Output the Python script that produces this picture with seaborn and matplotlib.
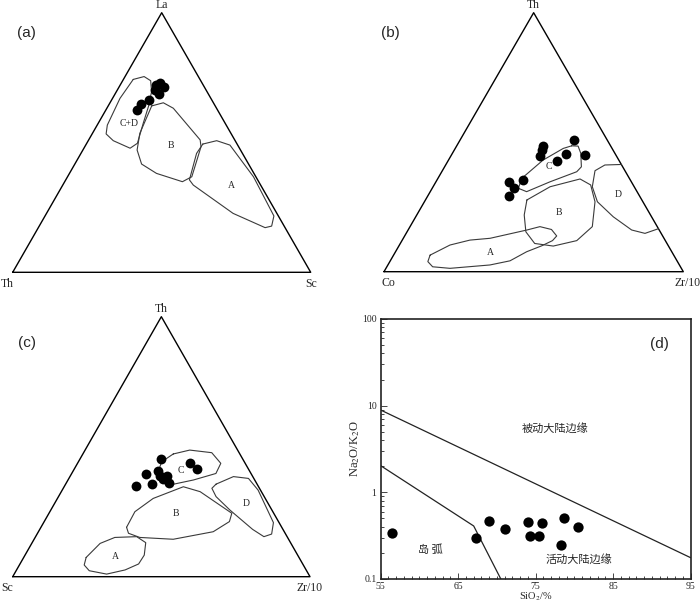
import numpy as np
import pandas as pd
import seaborn as sns
import matplotlib.pyplot as plt
from matplotlib.ticker import FixedLocator, FixedFormatter, MultipleLocator, LogLocator, NullFormatter

# ---- (a) La-Th-Sc, values in %, top = La, right = Sc (Th = rest)
pts_a_la = [72.9, 72.2, 71.2, 70.4, 68.5, 66.4, 65.0, 62.5]
pts_a_sc = [13.1, 12.1, 15.2, 12.5, 14.7, 12.7, 10.4, 10.6]
cd_a_la = [74.3, 75.4, 73.8, 69.6, 64.4, 57.4, 49.7, 47.8, 50.7, 53.3, 56.7, 67.0]
cd_a_sc = [3.3, 6.4, 9.4, 11.8, 13.5, 15.1, 17.0, 15.5, 8.4, 4.7, 3.4, 2.5]
b_a_la = [64.1, 65.3, 63.2, 51.0, 48.4, 36.8, 34.9, 38.1, 41.7, 47.1, 53.5]
b_a_sc = [14.6, 17.9, 22.3, 37.4, 39.0, 41.7, 39.5, 29.2, 22.4, 18.2, 15.9]
a_a_la = [49.4, 50.7, 49.0, 36.8, 21.7, 17.8, 17.2, 22.7, 33.6, 35.6, 45.8]
a_a_sc = [39.1, 43.1, 48.4, 62.4, 76.8, 78.0, 76.1, 62.6, 43.8, 41.5, 38.8]
lab_a = ['C+D', 'B', 'A']
lab_a_la = [57.4, 48.8, 33.6]
lab_a_sc = [10.4, 28.6, 56.7]

# ---- (b) Th-Co-Zr/10, top = Th, right = Zr/10 (Co = rest)
pts_b_th = [48.6, 46.8, 44.8, 50.8, 45.0, 45.3, 42.7, 35.4, 34.5, 32.3, 29.1]
pts_b_zr = [28.9, 29.3, 29.7, 38.1, 44.6, 38.1, 36.5, 28.6, 24.5, 27.2, 27.3]
c_b_th = [48.6, 48.5, 45.7, 40.5, 38.6, 34.7, 30.9, 32.2, 36.0, 43.1, 47.6]
c_b_zr = [38.4, 40.6, 42.9, 45.7, 45.1, 38.1, 32.2, 28.8, 28.0, 31.6, 36.1]
b_b_th = [27.7, 32.8, 35.8, 33.5, 27.0, 17.4, 12.0, 9.9, 10.9, 15.4, 21.9]
b_b_zr = [33.9, 39.1, 47.6, 52.3, 57.0, 60.9, 58.4, 51.6, 44.9, 39.7, 35.9]
d_b_th = [41.4, 41.2, 39.0, 32.8, 27.0, 21.2, 16.1, 14.8, 16.6]
d_b_zr = [58.6, 53.2, 51.0, 53.2, 57.8, 66.0, 74.7, 79.8, 83.4]
a_b_th = [6.4, 10.3, 12.2, 12.9, 16.1, 17.4, 16.3, 13.8, 12.0, 10.0, 7.7, 4.2, 2.6, 1.3, 1.9, 3.9]
a_b_zr = [12.2, 16.9, 22.6, 29.0, 39.7, 43.4, 47.8, 50.8, 50.3, 47.7, 43.8, 40.0, 34.1, 21.4, 15.3, 12.7]
lab_b = ['C', 'B', 'D', 'A']
lab_b_th = [40.5, 22.9, 29.9, 7.5]
lab_b_zr = [34.8, 47.1, 63.2, 31.7]

# ---- (c) Th-Sc-Zr/10, top = Th, right = Zr/10 (Sc = rest)
pts_c_th = [45.1, 39.5, 40.5, 38.7, 38.7, 37.4, 36.2, 35.6, 35.0, 43.6, 41.4]
pts_c_zr = [27.2, 25.0, 28.7, 30.2, 32.4, 32.0, 34.6, 29.2, 23.9, 37.8, 41.2]
c_c_th = [47.2, 48.7, 47.7, 43.6, 39.7, 37.2, 35.3, 37.2, 41.7, 44.2]
c_c_zr = [30.4, 35.2, 43.1, 48.2, 48.5, 42.2, 35.3, 32.3, 28.5, 28.0]
b_c_th = [19.0, 25.0, 30.1, 34.6, 32.7, 24.4, 21.2, 17.3, 14.4, 15.1, 16.7]
b_c_zr = [28.8, 28.6, 32.2, 40.1, 46.7, 61.5, 62.3, 58.8, 46.8, 35.2, 30.6]
d_c_th = [35.6, 38.5, 37.8, 33.3, 20.8, 16.4, 15.4, 18.2, 25.6, 30.8, 34.0]
d_c_zr = [50.6, 55.0, 60.4, 65.9, 77.3, 78.9, 76.8, 71.6, 60.3, 53.0, 50.0]
a_c_th = [7.4, 12.8, 15.1, 15.4, 13.1, 8.3, 4.9, 2.6, 1.0, 2.3, 4.5]
a_c_zr = [21.0, 23.0, 26.8, 34.0, 38.2, 40.1, 39.9, 36.5, 31.1, 24.6, 21.8]
lab_c = ['C', 'B', 'D', 'A']
lab_c_th = [41.0, 24.4, 28.2, 7.7]
lab_c_zr = [36.1, 42.6, 64.6, 30.6]

# ---- (d) SiO2 vs Na2O/K2O
sio2 = [56.4, 67.3, 69.0, 71.1, 74.0, 74.3, 75.4, 75.8, 78.3, 78.7, 80.5]
na_k = [0.343, 0.294, 0.467, 0.374, 0.451, 0.311, 0.311, 0.438, 0.245, 0.501, 0.398]
upper_x = [55, 95]
upper_y = [8.9, 0.176]
lower_x = [55, 67.0, 70.5]
lower_y = [2.03, 0.409, 0.1]

H = np.sqrt(3) / 2


def tern(top, right):
    top = np.asarray(top) / 100.0
    right = np.asarray(right) / 100.0
    return right + top / 2, top * H


sns.set_style("white")
plt.rcParams['font.family'] = ['Liberation Serif', 'Noto Sans CJK SC']
plt.rcParams['mathtext.fontset'] = 'stix'

fig = plt.figure(figsize=(7, 6.05), dpi=100)
W, HP = 700.0, 605.0


def tern_axes(left, top, right, base):
    ax = fig.add_axes([left / W, 1 - base / HP, (right - left) / W, (base - top) / HP])
    ax.set_xlim(0, 1)
    ax.set_ylim(0, H)
    ax.axis('off')
    ax.plot([0, 1, 0.5, 0], [0, 0, H, 0], color='black', lw=1.0, clip_on=False)
    return ax


def draw_field(ax, top, right, closed=True):
    x, y = tern(top, right)
    if closed:
        x = np.append(x, x[0])
        y = np.append(y, y[0])
    ax.plot(x, y, color='#3a3a3a', lw=0.8, clip_on=False)


def draw_points(ax, top, right):
    x, y = tern(top, right)
    df = pd.DataFrame({'x': x, 'y': y})
    sns.scatterplot(data=df, x='x', y='y', ax=ax, color='black', s=50,
                    edgecolor='black', linewidth=0, clip_on=False, zorder=5)
    ax.set_xlabel('')
    ax.set_ylabel('')


def field_labels(ax, labels, top, right):
    x, y = tern(top, right)
    for t, xi, yi in zip(labels, x, y):
        ax.text(xi, yi, t, ha='center', va='center', fontsize=7)


def corner_labels(ax, top_lab, left_lab, right_lab, dl=-4, dr=0):
    ax.annotate(top_lab, xy=(0.5, H), xytext=(0, 3.5), textcoords='offset points',
                ha='center', va='baseline', fontsize=8.5)
    ax.annotate(left_lab, xy=(0, 0), xytext=(dl, -4), textcoords='offset points',
                ha='center', va='top', fontsize=8.5)
    ax.annotate(right_lab, xy=(1, 0), xytext=(dr, -4), textcoords='offset points',
                ha='center', va='top', fontsize=8.5)


# (a)
ax_a = tern_axes(12.7, 12.7, 310.7, 272.3)
draw_field(ax_a, cd_a_la, cd_a_sc)
draw_field(ax_a, b_a_la, b_a_sc)
draw_field(ax_a, a_a_la, a_a_sc)
draw_points(ax_a, pts_a_la, pts_a_sc)
field_labels(ax_a, lab_a, lab_a_la, lab_a_sc)
corner_labels(ax_a, 'La', 'Th', 'Sc', dl=-4, dr=0)

# (b)
ax_b = tern_axes(384.0, 12.7, 683.3, 271.7)
draw_field(ax_b, c_b_th, c_b_zr)
draw_field(ax_b, b_b_th, b_b_zr)
draw_field(ax_b, d_b_th, d_b_zr, closed=False)
draw_field(ax_b, a_b_th, a_b_zr)
draw_points(ax_b, pts_b_th, pts_b_zr)
field_labels(ax_b, lab_b, lab_b_th, lab_b_zr)
corner_labels(ax_b, 'Th', 'Co', 'Zr/10', dl=3, dr=3)

# (c)
ax_c = tern_axes(12.7, 316.7, 310.0, 576.7)
draw_field(ax_c, c_c_th, c_c_zr)
draw_field(ax_c, b_c_th, b_c_zr)
draw_field(ax_c, d_c_th, d_c_zr)
draw_field(ax_c, a_c_th, a_c_zr)
draw_points(ax_c, pts_c_th, pts_c_zr)
field_labels(ax_c, lab_c, lab_c_th, lab_c_zr)
corner_labels(ax_c, 'Th', 'Sc', 'Zr/10', dl=-4, dr=0)

# panel letters
for lab, px, py in [('(a)', 26.7, 33.3), ('(b)', 390.0, 33.3), ('(c)', 26.7, 343.3)]:
    fig.text(px / W, 1 - py / HP, lab, ha='center', va='center', fontsize=11,
             family='Liberation Sans')

# (d)
ax_d = fig.add_axes([380.7 / W, 1 - 579.0 / HP, 310.0 / W, 260.0 / HP])
df_d = pd.DataFrame({'SiO2': sio2, 'ratio': na_k})
sns.scatterplot(data=df_d, x='SiO2', y='ratio', ax=ax_d, color='black', s=55,
                edgecolor='black', linewidth=0, zorder=5)
sns.lineplot(x=upper_x, y=upper_y, ax=ax_d, color='#222222', lw=0.9, sort=False)
sns.lineplot(x=lower_x, y=lower_y, ax=ax_d, color='#222222', lw=0.9, sort=False)
ax_d.set_yscale('log')
ax_d.set_xlim(55, 95)
ax_d.set_ylim(0.1, 100)
ax_d.xaxis.set_major_locator(FixedLocator([55, 65, 75, 85, 95]))
ax_d.xaxis.set_minor_locator(MultipleLocator(1))
ax_d.yaxis.set_major_locator(FixedLocator([0.1, 1, 10, 100]))
ax_d.yaxis.set_major_formatter(FixedFormatter(['0.1', '1', '10', '100']))
ax_d.yaxis.set_minor_locator(LogLocator(base=10, subs=np.arange(2, 10)))
ax_d.yaxis.set_minor_formatter(NullFormatter())
ax_d.tick_params(which='both', direction='in', labelsize=7, width=0.6)
ax_d.tick_params(which='major', length=4, pad=3)
ax_d.tick_params(axis='x', which='major', pad=2)
ax_d.tick_params(which='minor', length=2.2)
ax_d.tick_params(axis='both', which='both', bottom=True, left=True, top=False, right=False)
for sp in ax_d.spines.values():
    sp.set_linewidth(1.2)
    sp.set_color('#222222')
ax_d.set_xlabel('SiO$_2$/%', fontsize=7.5)
ax_d.xaxis.set_label_coords(0.5, -0.094)
ax_d.xaxis.label.set_va('bottom')
ax_d.set_ylabel('Na$_2$O/K$_2$O', fontsize=9)
ax_d.yaxis.set_label_coords(-0.083, 0.5)
ax_d.yaxis.label.set_va('center')
ax_d.text(77.5, 5.5, '被动大陆边缘', ha='center', va='center', fontsize=8,
          family=['Noto Sans CJK SC', 'DejaVu Sans'])
ax_d.text(61.4, 0.216, '岛 弧', ha='center', va='center', fontsize=8,
          family=['Noto Sans CJK SC', 'DejaVu Sans'])
ax_d.text(80.6, 0.169, '活动大陆边缘', ha='center', va='center', fontsize=8,
          family=['Noto Sans CJK SC', 'DejaVu Sans'])
ax_d.text(91.0, 52, '(d)', ha='center', va='center', fontsize=11, family='Liberation Sans')

fig.savefig('out.png', dpi=100)
